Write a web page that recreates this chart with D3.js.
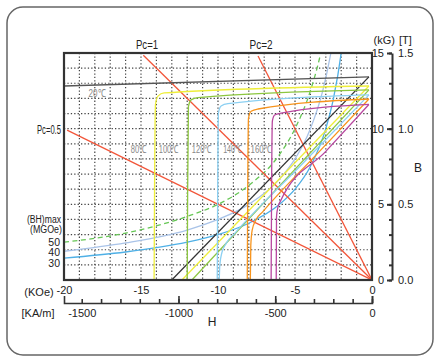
<!DOCTYPE html>
<html>
<head>
<meta charset="utf-8">
<script src="https://cdn.jsdelivr.net/npm/d3@7"></script>
<style>
  body { margin: 0; background: #fff; }
  text { font-family: "Liberation Sans", Arial, sans-serif; fill: #222; }
</style>
</head>
<body>
<svg id="chart" width="440" height="361"></svg>
<script>
// axis values
const H_LABELS = [-20, -15, -10, -5, 0]        // kOe
const KAM_LABELS = [-1500, -1000, -500, 0]     // kA/m
const B_LABELS = [0, 5, 10, 15]                // kG
const T_LABELS = [0, 0.5, 1.0, 1.5]            // T
const KA_PER_KOE = 79.577

// demagnetization curves, [H kOe, B kG]
// j = intrinsic curve, b = normal curve
const j20 = [[-20, 12.82], [-0.2, 13.42]]
const b20 = [[-13.0, 0], [-0.2, 13.42]]
const j80 = [[-14.15, 0], [-14.12, 6], [-14.06, 11.6], [-13.9, 12.15], [-13.5, 12.36], [-0.2, 12.82]]
const b80 = [[-12.34, 0], [-0.2, 12.82]]
const j100 = [[-12.0, 0], [-11.97, 6], [-11.92, 11.45], [-11.75, 11.9], [-11.3, 12.05], [-0.2, 12.56]]
const b100 = [[-11.69, 0], [-0.2, 12.56]]
const j120 = [[-10.05, 0], [-10.02, 6], [-9.97, 11.05], [-9.8, 11.5], [-9.35, 11.65], [-0.2, 12.23]]
const b120 = [[-9.92, 0], [-9.88, 1.0], [-9.75, 1.8], [-9.45, 2.45], [-8.9, 3.1], [-4.5, 7.7], [-0.2, 12.23]]
const j140 = [[-8.1, 0], [-8.07, 6], [-8.02, 10.7], [-7.85, 11.15], [-7.4, 11.3], [-0.2, 11.96]]
const b140 = [[-7.9, 0], [-7.87, 2.3], [-7.78, 3.3], [-7.55, 3.95], [-7.1, 4.5], [-3.5, 8.4], [-0.2, 11.96]]
const j160 = [[-6.55, 0], [-6.52, 6], [-6.47, 10.5], [-6.32, 10.9], [-5.9, 11.02], [-0.2, 11.6]]
const b160 = [[-6.22, 0], [-6.2, 4.2], [-6.1, 4.85], [-5.95, 5.2], [-3.0, 8.5], [-0.2, 11.6]]

// (BH)max contours
const bh50 = [[-20, 2.5], [-16, 3.1], [-12, 4.2], [-10, 5], [-8, 6.25], [-6, 8.3], [-5, 10], [-4, 12.5], [-3.35, 14.9], [-3.2, 15.6]]
const bh40 = [[-20, 1.9], [-16, 2.45], [-12, 3.3], [-10, 4], [-8, 5], [-6, 6.67], [-5, 8], [-4, 10], [-3.2, 12.5], [-2.67, 15], [-2.5, 16]]
const bh30 = [[-20, 1.45], [-16, 1.85], [-12, 2.5], [-10, 3], [-8, 3.75], [-6, 5], [-5, 6], [-4, 7.5], [-3, 10], [-2.5, 12], [-2, 15], [-1.9, 15.8]]

// permeance lines
const pc05 = [[-19.8, 9.9], [0, 0]]
const pc1 = [[-14.85, 14.85], [0, 0]]
const pc2 = [[-7.4, 14.8], [0, 0]]

const svg = d3.select('#chart')

const x = d3.scaleLinear().domain([-20, 0]).range([64, 372])
const y = d3.scaleLinear().domain([0, 15]).range([280, 53])
const yT = d3.scaleLinear().domain([0, 1.5]).range([280, 53])
const xK = d3.scaleLinear().domain([-20 * KA_PER_KOE, 0]).range([64, 372])

// outer rounded frame
svg.append('rect')
  .attr('x', 7).attr('y', 7).attr('width', 426).attr('height', 348).attr('rx', 16)
  .attr('fill', 'none').attr('stroke', '#666').attr('stroke-width', 1.5)

svg.append('clipPath').attr('id', 'plot')
  .append('rect').attr('x', x(-20)).attr('y', y(15)).attr('width', x(0) - x(-20)).attr('height', y(0) - y(15))

// dotted grid
const grid = svg.append('g')
  .attr('stroke', '#444').attr('stroke-width', 1.2).attr('stroke-dasharray', '1.3,2.1')
grid.selectAll('line.v').data(d3.range(-19, 0)).join('line').attr('class', 'v')
  .attr('x1', d => x(d)).attr('x2', d => x(d)).attr('y1', y(15)).attr('y2', y(0))
grid.selectAll('line.h').data(d3.range(1, 15)).join('line').attr('class', 'h')
  .attr('y1', d => y(d)).attr('y2', d => y(d)).attr('x1', x(-20)).attr('x2', x(0))

const line = d3.line().x(d => x(d[0])).y(d => y(d[1])).curve(d3.curveMonotoneX)

const series = [
  { pts: bh50, color: '#66c655', dash: '5,3.5' },
  { pts: bh40, color: '#a9c3e8' },
  { pts: bh30, color: '#4fb0e6' },
  { pts: pc05, color: '#f2563a' },
  { pts: pc1, color: '#f2563a' },
  { pts: pc2, color: '#f2563a' },
  { pts: j20, color: '#555' },
  { pts: b20, color: '#333' },
  { pts: j80, color: '#eeee3a' },
  { pts: b80, color: '#eeee3a' },
  { pts: j100, color: '#8cc63f' },
  { pts: b100, color: '#8cc63f' },
  { pts: j120, color: '#8cd0f2' },
  { pts: b120, color: '#8cd0f2' },
  { pts: j140, color: '#f7941d' },
  { pts: b140, color: '#f7941d' },
  { pts: j160, color: '#b8479f' },
  { pts: b160, color: '#b8479f' }
]

svg.append('g').attr('clip-path', 'url(#plot)')
  .selectAll('path').data(series).join('path')
  .attr('d', d => line(d.pts))
  .attr('fill', 'none')
  .attr('stroke', d => d.color)
  .attr('stroke-width', 1.3)
  .attr('stroke-dasharray', d => d.dash || null)

// plot frame
svg.append('rect')
  .attr('x', x(-20)).attr('y', y(15)).attr('width', x(0) - x(-20)).attr('height', y(0) - y(15))
  .attr('fill', 'none').attr('stroke', '#333').attr('stroke-width', 2.2)

// H axis labels (kOe)
const hAxis = svg.append('g').attr('transform', `translate(0,${y(0)})`)
  .call(d3.axisBottom(x).tickValues(H_LABELS).tickSize(0).tickPadding(6).tickFormat(d => String(d)))
hAxis.select('.domain').remove()
hAxis.selectAll('text').attr('font-size', 11)

// kA/m axis
const kY = 303
const kMinor = svg.append('g').attr('transform', `translate(0,${kY})`)
  .call(d3.axisTop(xK).tickValues(d3.range(-1500, 1, 100)).tickSize(4).tickSizeOuter(7).tickFormat(''))
kMinor.selectAll('path, line').attr('stroke', '#333').attr('stroke-width', 1.6)
const kMajor = svg.append('g').attr('transform', `translate(0,${kY})`)
  .call(d3.axisTop(xK).tickValues([-1000, -500, 0]).tickSize(7).tickFormat(''))
kMajor.select('.domain').remove()
kMajor.selectAll('line').attr('stroke', '#333').attr('stroke-width', 1.6)
const kLab = svg.append('g').attr('transform', `translate(0,${kY})`)
  .call(d3.axisBottom(xK).tickValues(KAM_LABELS).tickSize(0).tickPadding(6).tickFormat(d => String(d)))
kLab.select('.domain').remove()
kLab.selectAll('text').attr('font-size', 11)

// B axis on the right
const bX = 392
const bMinor = svg.append('g').attr('transform', `translate(${bX},0)`)
  .call(d3.axisLeft(y).tickValues(d3.range(0, 16)).tickSize(3).tickSizeOuter(0).tickFormat(''))
bMinor.selectAll('path, line').attr('stroke', '#333').attr('stroke-width', 2)
const bMajor = svg.append('g').attr('transform', `translate(${bX},0)`)
  .call(d3.axisLeft(y).tickValues(B_LABELS).tickSize(5).tickPadding(3).tickFormat(d => String(d)))
bMajor.select('.domain').remove()
bMajor.selectAll('line').attr('stroke', '#333').attr('stroke-width', 2)
bMajor.selectAll('text').attr('font-size', 11)
const tLab = svg.append('g').attr('transform', `translate(${bX},0)`)
  .call(d3.axisRight(yT).tickValues(T_LABELS).tickSize(0).tickPadding(6).tickFormat(d3.format('.1f')))
tLab.select('.domain').remove()
tLab.selectAll('text').attr('font-size', 11)

// annotations; w squeezes a text to the narrow width seen in the picture
const note = (t, px, py, anchor, size, color, w) => {
  const el = svg.append('text')
    .attr('x', px).attr('y', py).attr('text-anchor', anchor || 'start')
    .attr('font-size', size || 11).style('fill', color || '#222').text(t)
  if (w) el.attr('textLength', w).attr('lengthAdjust', 'spacingAndGlyphs')
  return el
}

note('(kG)', 395, 44, 'end', 11)
note('[T]', 399, 44, 'start', 11)
note('B', 418, 172, 'middle', 12)
note('H', 212, 326, 'middle', 12)
note('(KOe)', 39, 296, 'middle', 11)
note('[KA/m]', 38, 317, 'middle', 11)
note('Pc=1', 147, 49, 'middle', 12, null, 22)
note('Pc=2', 261, 49, 'middle', 12, null, 23)
note('Pc=0.5', 61, 134, 'end', 12, null, 24)
note('(BH)max', 61, 222.5, 'end', 10, null, 34)
note('(MGOe)', 62, 233, 'end', 10, null, 32)
note('50', 60, 245.5, 'end', 10.5)
note('40', 60, 256, 'end', 10.5)
note('30', 60, 266.5, 'end', 10.5)

const tempLabels = [['20℃', -17.85, 12.1, 17], ['80℃', -15.15, 8.4, 16], ['100℃', -13.2, 8.4, 20],
  ['120℃', -11.05, 8.4, 20], ['140℃', -9.05, 8.4, 19], ['160℃', -7.2, 8.4, 21]]
tempLabels.forEach(([t, h, b, w]) => note(t, x(h), y(b), 'middle', 11, '#888', w))
</script>
</body>
</html>
